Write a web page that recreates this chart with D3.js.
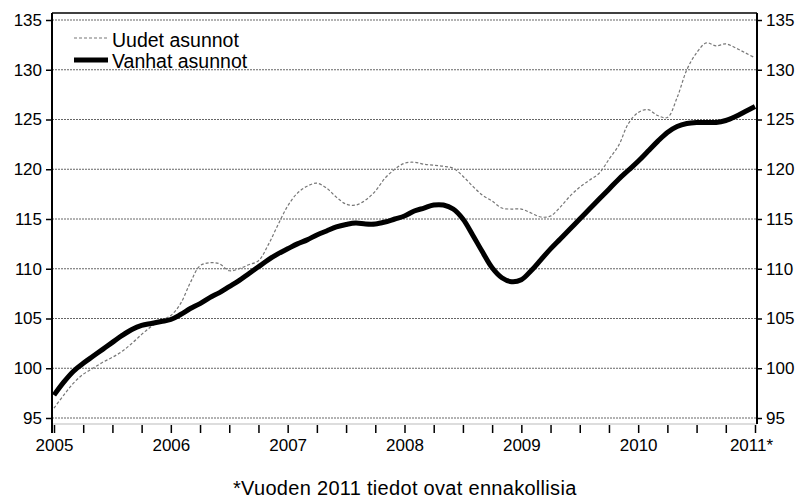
<!DOCTYPE html>
<html><head><meta charset="utf-8">
<script src="https://cdn.jsdelivr.net/npm/d3@7"></script>
<style>
html,body{margin:0;padding:0;background:#fff;}
svg{display:block;font-family:"Liberation Sans",Arial,sans-serif;}
</style></head>
<body><svg id="c" width="800" height="498"></svg>
<script>
// Data (monthly index, Jan 2005 .. Jan 2011)
const seriesNames = ["Uudet asunnot", "Vanhat asunnot"];
const yearLabels = ["2005","2006","2007","2008","2009","2010","2011*"];
const yTicks = [95,100,105,110,115,120,125,130,135];
const footnote = "*Vuoden 2011 tiedot ovat ennakollisia";
const uudet = [
 96.0, 97.3, 98.5, 99.4,100.0,100.6,101.1,101.7,102.5,103.4,104.2,104.8,
105.3,106.5,108.6,110.3,110.6,110.5,109.8,110.0,110.4,110.8,112.4,114.4,
116.3,117.6,118.3,118.6,118.1,117.2,116.5,116.4,116.9,117.8,119.1,120.0,
120.6,120.7,120.5,120.4,120.3,120.1,119.3,118.3,117.4,116.8,116.1,116.0,
116.0,115.6,115.2,115.3,116.2,117.3,118.2,118.9,119.6,121.0,122.4,124.6,
125.7,126.0,125.4,125.2,127.2,130.0,131.7,132.7,132.4,132.6,132.2,131.7,
131.2];
const vanhat = [
 97.3, 98.6, 99.7,100.5,101.2,101.9,102.6,103.3,103.9,104.3,104.5,104.7,
104.9,105.4,106.0,106.5,107.1,107.6,108.2,108.8,109.5,110.2,110.9,111.5,
112.0,112.5,112.9,113.4,113.8,114.2,114.45,114.6,114.5,114.5,114.7,115.0,
115.3,115.8,116.1,116.4,116.4,116.0,115.0,113.4,111.7,110.1,109.1,108.7,
108.9,109.8,110.9,112.0,113.0,114.0,115.0,116.0,117.0,118.0,119.0,119.9,
120.8,121.8,122.8,123.7,124.3,124.6,124.7,124.7,124.7,124.9,125.3,125.8,
126.3];

const svg = d3.select("#c");
const L = 52, R = 757, T = 13, B = 424;
const x = d3.scaleLinear().domain([0, 72]).range([54, 755]);
const y = d3.scaleLinear().domain([95, 135]).range([418, 20]);

// gridlines
svg.append("g").selectAll("line").data(yTicks).join("line")
  .attr("x1", L).attr("x2", R)
  .attr("y1", d => y(d)).attr("y2", d => y(d))
  .attr("stroke", "#666").attr("stroke-width", 1).attr("stroke-dasharray", "2,1");

// frame
svg.append("line").attr("x1", L).attr("x2", R).attr("y1", T).attr("y2", T).attr("stroke", "#000").attr("stroke-width", 1.5);
svg.append("line").attr("x1", L).attr("x2", R).attr("y1", B).attr("y2", B).attr("stroke", "#bbb").attr("stroke-width", 1);
svg.append("line").attr("x1", L).attr("x2", L).attr("y1", T).attr("y2", 433).attr("stroke", "#000").attr("stroke-width", 2);
svg.append("line").attr("x1", R).attr("x2", R).attr("y1", T).attr("y2", B).attr("stroke", "#000").attr("stroke-width", 2);

// y axes
const yl = d3.axisLeft(y).tickValues(yTicks).tickSize(6).tickPadding(4).tickFormat(d3.format("d"));
const gL = svg.append("g").attr("transform", `translate(${L},0)`).call(yl);
const yr = d3.axisRight(y).tickValues(yTicks).tickSize(5).tickPadding(4).tickFormat(d3.format("d"));
const gR = svg.append("g").attr("transform", `translate(${R},0)`).call(yr);
[gL, gR].forEach(g => {
  g.select(".domain").remove();
  g.selectAll(".tick line").attr("stroke", "#000").attr("stroke-width", 1.5);
  g.selectAll(".tick text").attr("font-size", 17).attr("fill", "#000").attr("font-family", "Liberation Sans, Arial, sans-serif");
});

// x axis
const xa = d3.axisBottom(x).tickValues(d3.range(0, 73, 3)).tickSize(8).tickPadding(6)
  .tickFormat(d => d % 12 === 0 ? yearLabels[d / 12] : "");
const gX = svg.append("g").attr("transform", `translate(0,${B + 1})`).call(xa);
gX.select(".domain").remove();
gX.selectAll(".tick line").attr("stroke", "#000").attr("stroke-width", 1.5);
gX.selectAll(".tick text").attr("font-size", 17).attr("fill", "#000").attr("font-family", "Liberation Sans, Arial, sans-serif");
gX.selectAll(".tick text").filter(d => d === 72).attr("dx", "-4");

// lines
const line = d3.line().x((d, i) => x(i)).y(d => y(d)).curve(d3.curveCatmullRom);
svg.append("path").datum(uudet).attr("d", line)
  .attr("fill", "none").attr("stroke", "#777").attr("stroke-width", 1.2).attr("stroke-dasharray", "3,2");
svg.append("path").datum(vanhat).attr("d", line)
  .attr("fill", "none").attr("stroke", "#000").attr("stroke-width", 5).attr("stroke-linejoin", "round");

// legend
const leg = svg.append("g");
leg.append("rect").attr("x", 70).attr("y", 30).attr("width", 180).attr("height", 38).attr("fill", "#fff");
leg.append("line").attr("x1", 74).attr("x2", 108).attr("y1", 38).attr("y2", 38)
  .attr("stroke", "#777").attr("stroke-width", 1.2).attr("stroke-dasharray", "3,2");
leg.append("line").attr("x1", 74).attr("x2", 108).attr("y1", 60).attr("y2", 60)
  .attr("stroke", "#000").attr("stroke-width", 5);
leg.append("text").attr("x", 112).attr("y", 47).attr("font-size", 19.5).text(seriesNames[0]);
leg.append("text").attr("x", 112).attr("y", 68).attr("font-size", 19.5).text(seriesNames[1]);

// footnote
svg.append("text").attr("x", 233).attr("y", 495).attr("font-size", 20)
  .attr("letter-spacing", 0.3).text(footnote);
</script>
</body></html>
